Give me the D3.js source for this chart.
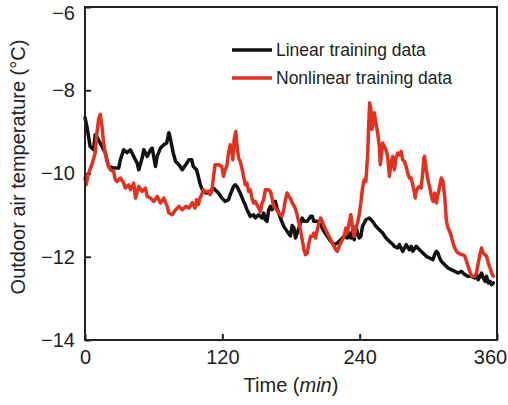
<!DOCTYPE html>
<html>
<head>
<meta charset="utf-8">
<script src="https://cdn.jsdelivr.net/npm/d3@7"></script>
<style>
  html, body { margin: 0; padding: 0; background: #fff; }
  svg { display: block; font-family: "Liberation Sans", Arial, sans-serif; }
</style>
</head>
<body>
<svg id="chart" width="508" height="405"></svg>
<script>
// Outdoor air temperature over a 6-hour window, two training data sets.
const linearTime = [0, 1.6, 4.5, 7.5, 8.9, 11, 14.8, 17.7, 20.6, 25, 29.4, 30.9, 33.8, 36.7, 39.7, 42.6, 45.5, 47, 49.9, 51.4, 54.3, 57.2, 58.7, 61.6, 63, 66, 68.9, 71.3, 73.3, 74.8, 77.1, 79.2, 82.1, 85, 88, 90.9, 93.2, 94.6, 97.5, 99, 100.5, 101.9, 103.4, 106.3, 109.3, 112.2, 113.6, 116.6, 119.5, 122.4, 125.4, 126.9, 129.8, 131.3, 132.7, 135.6, 138.6, 140, 141.5, 143, 144.4, 147.4, 148.8, 151.7, 154.7, 156.1, 157.6, 159, 160.5, 162, 163.4, 164.9, 166.3, 167.8, 170.7, 173.7, 176.6, 179.5, 181, 182.5, 183.9, 185.4, 188.3, 189.8, 191.3, 194.2, 197.1, 198.6, 200, 203, 205.9, 208.8, 211.7, 214.7, 217.6, 220.5, 223.5, 226.4, 229.3, 230.8, 232.3, 233.7, 235.2, 236.7, 238.1, 239.6, 241, 242.5, 244, 245.4, 248.4, 251.3, 254.2, 257.2, 260.1, 263, 266, 268.9, 270.3, 273.3, 274.7, 277.6, 280.6, 283.5, 285, 286.4, 289.4, 292.3, 295.2, 298.2, 301.1, 304, 305.5, 307, 308.4, 309.9, 311.3, 314.3, 317.2, 320.1, 323.1, 326, 328.9, 331.9, 334.8, 337.7, 340.7, 342.1, 343.6, 346.5, 348, 349.5, 350.9, 352.4, 353.9, 355.3, 356.8];
const linearTemp = [-8.66, -8.86, -9.35, -9.43, -9.07, -9.15, -9.35, -9.5, -9.83, -9.87, -9.87, -9.67, -9.43, -9.5, -9.43, -9.59, -9.75, -9.91, -9.63, -9.43, -9.59, -9.43, -9.39, -9.83, -9.59, -9.39, -9.31, -9.27, -9.02, -9.19, -9.51, -9.71, -9.79, -9.91, -9.79, -9.67, -9.67, -9.83, -9.91, -10.07, -10.24, -10.35, -10.43, -10.47, -10.43, -10.35, -10.39, -10.47, -10.59, -10.67, -10.63, -10.51, -10.31, -10.27, -10.31, -10.47, -10.67, -10.75, -10.87, -10.95, -11.03, -10.99, -11.07, -10.99, -11.07, -10.95, -11.11, -11.15, -10.87, -10.79, -10.87, -10.75, -10.67, -10.83, -11.07, -11.27, -11.39, -11.5, -11.25, -11.3, -11.55, -11.43, -11.19, -11.07, -11.15, -11.15, -11.03, -11.03, -11.15, -11.15, -11.23, -11.39, -11.51, -11.63, -11.71, -11.67, -11.59, -11.51, -11.55, -11.43, -11.55, -11.39, -11.59, -11.27, -11.43, -11.55, -11.51, -11.27, -11.19, -11.11, -11.07, -11.15, -11.27, -11.35, -11.43, -11.55, -11.63, -11.7, -11.75, -11.79, -11.71, -11.87, -11.71, -11.83, -11.75, -11.87, -11.75, -11.83, -11.91, -11.99, -12.03, -12.07, -11.95, -11.87, -11.91, -12.03, -12.11, -12.19, -12.27, -12.31, -12.35, -12.39, -12.35, -12.43, -12.47, -12.47, -12.51, -12.43, -12.55, -12.39, -12.51, -12.59, -12.47, -12.63, -12.59, -12.67, -12.63];

const nonlinearTime = [0, 1, 3.1, 6, 8.9, 10.4, 11.9, 13.3, 14.8, 16.3, 17.7, 19.2, 20.6, 22.1, 25, 26.5, 28, 30.9, 33.8, 35.3, 38.2, 39.7, 42.6, 44.1, 47, 49.9, 52.8, 54.3, 57.2, 60.2, 63.1, 66, 68.9, 71.8, 73.3, 76.2, 79.2, 82.1, 85, 88, 90.9, 93.8, 94.6, 96.1, 97.5, 99, 100.5, 101.9, 103.4, 104.8, 107.8, 109.3, 110.7, 112.2, 113.6, 116.6, 119.5, 121, 122.4, 123.9, 125.4, 126.9, 128.3, 129.2, 130.3, 131.8, 132.7, 134.2, 135.6, 137.1, 138.6, 140, 141.5, 143, 144.4, 145.9, 147.4, 148.8, 150.3, 151.7, 153.2, 154.7, 156.1, 157.6, 160.5, 162, 163.4, 164.9, 166.3, 169.3, 172.2, 173.7, 175.1, 176.6, 178.1, 179.5, 181, 182.5, 183.9, 185.4, 186.9, 188.3, 189.8, 191.3, 192.7, 194.2, 195.7, 197.1, 198.6, 200, 201.5, 203, 204.4, 205.9, 207.4, 208.8, 211.7, 214.7, 216.1, 217.6, 219.1, 220.5, 222, 223.5, 226.4, 227.9, 229.3, 230.8, 232.3, 233.7, 235.2, 236.7, 238.1, 239.6, 241, 242.5, 244, 245.4, 246.9, 247.8, 248.7, 249.8, 250.7, 251.9, 252.8, 254.2, 255.7, 257.2, 258, 259.2, 260.1, 261.6, 263, 264.5, 266, 267.4, 268.9, 270.3, 271.8, 273.3, 274.7, 276.2, 277.6, 279.1, 280.6, 282, 283.5, 285, 286.4, 287.9, 288.5, 289.4, 290.8, 292.3, 293.7, 295.2, 296.1, 296.7, 298.2, 299.6, 301.1, 302.5, 304, 305.5, 307, 308.4, 309.9, 311.3, 312.8, 314.3, 315.7, 317.2, 318.7, 320.1, 321.6, 323.1, 324.5, 326, 328.9, 330.4, 331.9, 333.3, 334.8, 336.3, 337.7, 340.7, 342.1, 343.6, 345.1, 346.5, 348, 349.5, 350.9, 352.4, 353.9, 355.3, 356.8];
const nonlinearTemp = [-10.11, -10.27, -9.99, -9.79, -9.51, -9.03, -8.7, -8.58, -8.86, -9.27, -9.51, -9.71, -9.83, -9.91, -9.95, -10.15, -10.19, -10.11, -10.23, -10.35, -10.27, -10.39, -10.23, -10.59, -10.31, -10.43, -10.35, -10.55, -10.59, -10.67, -10.55, -10.71, -10.59, -10.79, -10.95, -10.99, -10.87, -10.79, -10.87, -10.79, -10.83, -10.7, -10.75, -10.83, -10.63, -10.75, -10.59, -10.51, -10.39, -10.43, -10.43, -10.51, -10.43, -10.11, -9.79, -9.79, -9.83, -10.07, -9.91, -9.83, -9.51, -9.31, -9.47, -9.67, -9.19, -8.99, -9.31, -9.63, -9.71, -9.87, -10.07, -10.27, -10.23, -10.43, -10.39, -10.59, -10.71, -10.67, -10.75, -10.83, -10.91, -10.71, -10.63, -10.39, -10.39, -10.43, -10.59, -10.79, -10.83, -10.95, -11.03, -10.87, -10.63, -10.47, -10.55, -10.6, -10.7, -10.77, -10.85, -11.0, -11.19, -11.35, -11.59, -11.83, -11.95, -11.91, -11.67, -11.51, -11.51, -11.43, -11.55, -11.35, -11.19, -11.07, -11.15, -11.27, -11.43, -11.59, -11.67, -11.75, -11.83, -11.87, -11.75, -11.67, -11.51, -11.31, -11.43, -11.19, -10.99, -11.27, -11.51, -11.31, -11.19, -10.99, -10.71, -10.35, -10.15, -10.19, -9.59, -8.94, -8.3, -8.46, -8.94, -8.78, -8.54, -8.78, -9.02, -9.35, -9.79, -9.51, -9.27, -9.35, -9.43, -9.59, -10.07, -9.75, -9.59, -9.91, -9.63, -9.51, -9.55, -9.47, -9.67, -9.71, -9.83, -9.99, -10.11, -10.11, -10.27, -10.47, -10.59, -10.43, -10.35, -10.31, -10.35, -9.95, -9.63, -9.59, -9.91, -10.15, -10.31, -10.51, -10.67, -10.47, -10.71, -10.51, -10.31, -10.11, -10.19, -10.55, -11.11, -11.31, -11.39, -11.51, -11.67, -11.79, -11.87, -11.91, -11.95, -11.95, -11.99, -12.11, -12.23, -12.35, -12.47, -12.47, -12.39, -12.15, -11.95, -11.79, -11.91, -11.95, -11.99, -12.15, -12.27, -12.39, -12.47];

const xTicks = [0, 120, 240, 360];
const yTicks = [-14, -12, -10, -8, -6];
const seriesNames = ["Linear training data", "Nonlinear training data"];
const seriesColors = ["#111111", "#e2321f"];

const svg = d3.select("#chart");
const frame = { left: 85, right: 497, top: 7, bottom: 340 };

const x = d3.scaleLinear().domain([0, 360]).range([frame.left, frame.right]);
const y = d3.scaleLinear().domain([-14, -6]).range([frame.bottom, frame.top]);

const fmt = d => d < 0 ? "\u2212" + Math.abs(d) : String(d);

// y axis with inward ticks
const gy = svg.append("g")
  .attr("transform", `translate(${frame.left},0)`)
  .call(d3.axisLeft(y).tickValues(yTicks).tickSize(-6).tickPadding(10).tickFormat(fmt));
gy.select(".domain").remove();
// the top label is nudged down so it stays inside the page
gy.selectAll(".tick text").filter(d => d === -6).attr("y", 6);

// x axis with inward ticks
const gx = svg.append("g")
  .attr("transform", `translate(0,${frame.bottom})`)
  .call(d3.axisBottom(x).tickValues(xTicks).tickSize(-6).tickPadding(10).tickFormat(fmt));
gx.select(".domain").remove();
// the last label is nudged left so it stays inside the page
gx.selectAll(".tick text").filter(d => d === 360).attr("x", -7);

svg.selectAll(".tick line").attr("stroke", "#222").attr("stroke-width", 2);
svg.selectAll(".tick text").attr("font-size", 20).attr("fill", "#222")
  .attr("font-family", "'Liberation Sans', Arial, sans-serif");

// plot series
const line = d3.line().x(d => x(d[0])).y(d => y(d[1]));
const seriesData = [
  d3.zip(linearTime, linearTemp),
  d3.zip(nonlinearTime, nonlinearTemp)
];

[0, 1].forEach(i => {
  svg.append("path")
    .datum(seriesData[i])
    .attr("fill", "none")
    .attr("stroke", seriesColors[i])
    .attr("stroke-width", 3.5)
    .attr("stroke-linejoin", "round")
    .attr("stroke-linecap", "round")
    .attr("d", line);
});

// frame box
svg.append("rect")
  .attr("x", frame.left).attr("y", frame.top)
  .attr("width", frame.right - frame.left).attr("height", frame.bottom - frame.top)
  .attr("fill", "none").attr("stroke", "#222").attr("stroke-width", 2);

// legend
const legend = svg.append("g");
seriesNames.forEach((name, i) => {
  const ly = 50 + i * 28;
  legend.append("line")
    .attr("x1", 232).attr("x2", 272).attr("y1", ly).attr("y2", ly)
    .attr("stroke", seriesColors[i]).attr("stroke-width", 3.5);
  legend.append("text")
    .attr("x", 276).attr("y", ly + 6)
    .attr("font-size", 17.5).attr("fill", "#222")
    .text(name);
});

// axis titles
const xt = svg.append("text")
  .attr("x", (frame.left + frame.right) / 2).attr("y", 392)
  .attr("text-anchor", "middle").attr("font-size", 20).attr("fill", "#222");
xt.append("tspan").text("Time (");
xt.append("tspan").attr("font-style", "italic").text("min");
xt.append("tspan").text(")");

svg.append("text")
  .attr("transform", "translate(25,167) rotate(-90)")
  .attr("text-anchor", "middle").attr("font-size", 20).attr("fill", "#222")
  .text("Outdoor air temperature (\u00B0C)");
</script>
</body>
</html>
